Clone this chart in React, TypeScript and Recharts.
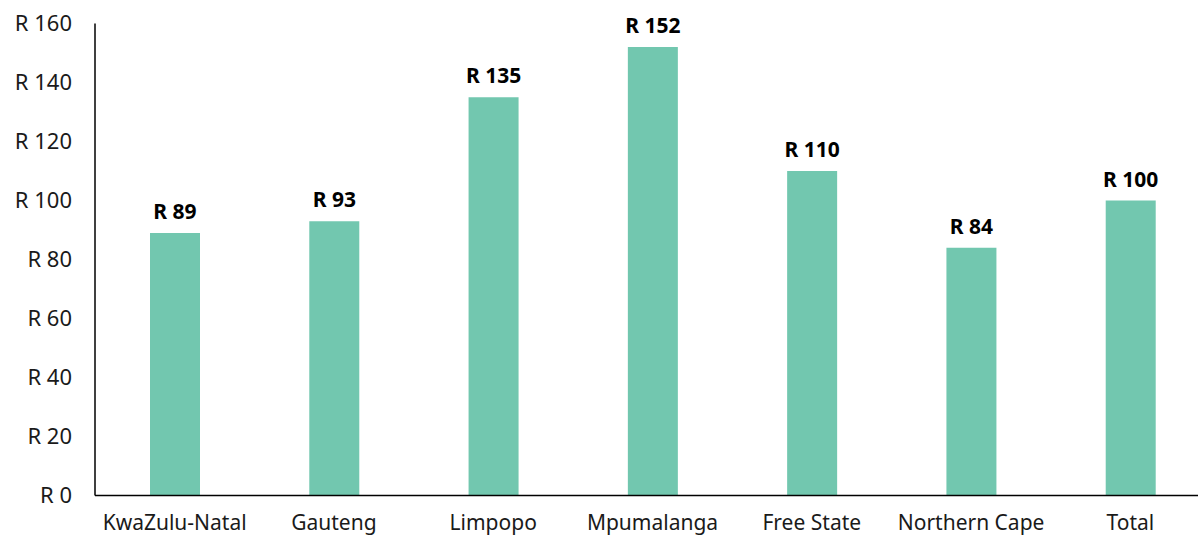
import React from "react";
import { BarChart, Bar, XAxis, YAxis, LabelList } from "recharts";

// average value per province, in rand
const provinces: string[] = [
  "KwaZulu-Natal",
  "Gauteng",
  "Limpopo",
  "Mpumalanga",
  "Free State",
  "Northern Cape",
  "Total"
];
const amounts: number[] = [89, 93, 135, 152, 110, 84, 100];
const yTicks: number[] = [0, 20, 40, 60, 80, 100, 120, 140, 160];

const chartData = provinces.map((name, i) => ({ name, value: amounts[i] }));

const FONT = "'Noto Sans', 'DejaVu Sans', sans-serif";
const rand = (v: number | string) => `R ${v}`;

const App: React.FC = () => {
  return (
    <div
      style={{
        position: "fixed",
        left: 0,
        top: 0,
        width: 1198,
        height: 535,
        overflow: "hidden",
        background: "#ffffff"
      }}
    >
      <BarChart
        width={1220}
        height={535}
        data={chartData}
        margin={{ top: 23.5, right: 10, left: 0, bottom: 0 }}
      >
        <XAxis
          dataKey="name"
          height={39.5}
          tickLine={false}
          tickSize={0}
          tickMargin={20}
          interval={0}
          axisLine={{ stroke: "#000000", strokeWidth: 1.5 }}
          tick={{ fill: "#1a1a1a", fontSize: 21, fontFamily: FONT }}
        />
        <YAxis
          width={95}
          domain={[0, 160]}
          ticks={yTicks}
          interval={0}
          tickLine={false}
          tickSize={0}
          tickMargin={23}
          tickFormatter={rand}
          axisLine={{ stroke: "#000000", strokeWidth: 1.5 }}
          tick={{ fill: "#1a1a1a", fontSize: 22, fontFamily: FONT }}
        />
        <Bar dataKey="value" fill="#72C7AF" barSize={50} isAnimationActive={false}>
          <LabelList
            dataKey="value"
            position="top"
            offset={14}
            formatter={rand}
            style={{ fill: "#000000", fontSize: 21, fontWeight: 700, fontFamily: FONT }}
          />
        </Bar>
      </BarChart>
    </div>
  );
};

export default App;
